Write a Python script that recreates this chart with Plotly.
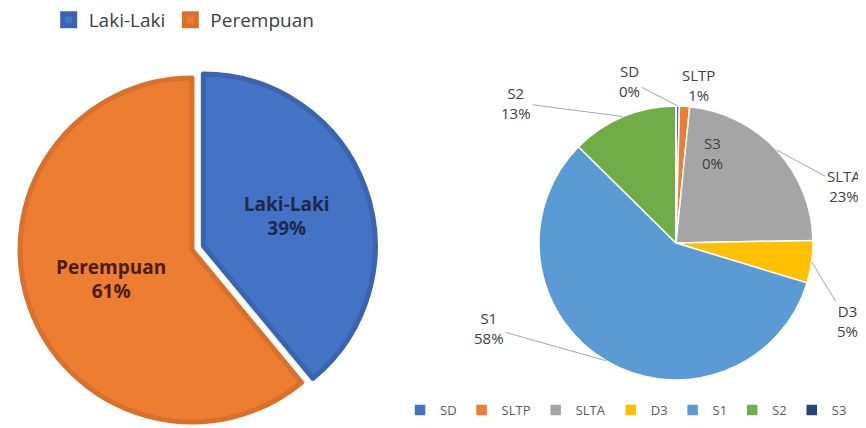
import math
import plotly.graph_objects as go

W, H = 866, 428
OFF = 8  # page body margin: screen = figure + OFF

# Left pie: gender
gender_labels = ["Laki-Laki", "Perempuan"]
gender_values = [39, 61]
gender_colors = ["#4472C4", "#ED7D31"]
gender_edges = ["#3A64B0", "#D9712C"]
gender_text_colors = ["#1C2A4F", "#4A1C0C"]

# Right pie: education
edu_labels = ["SD", "SLTP", "SLTA", "D3", "S1", "S2", "S3"]
edu_values = [0.4, 1.2, 23.1, 5.0, 57.7, 12.6, 0.0]
edu_colors = ["#4472C4", "#ED7D31", "#A5A5A5", "#FFC000", "#5B9BD5", "#70AD47", "#264478"]

# label offsets (px, text centre relative to slice edge) and leader-line flags
edu_offsets = [(-48, -25), (14, -21), (67, 36), (36, 59), (-117, -33), (-107, -14), (36, 47)]
edu_leader = [True, False, True, True, True, True, False]

FONT = "Open Sans"


def px(sx):
    return (sx - OFF) / W


def py(sy):
    return 1 - (sy - OFF) / H


fig = go.Figure()

# left pie geometry (screen px)
lcx, lcy, lpull = 192, 250, 0.07
lhalf = lcx - OFF
fig.add_trace(go.Pie(
    labels=gender_labels, values=gender_values,
    sort=False, direction="clockwise", rotation=0,
    pull=[lpull, 0],
    marker=dict(colors=gender_colors, line=dict(color=gender_edges, width=5)),
    texttemplate="<b>%{label}<br>%{percent:.0%}</b>",
    textposition="inside", insidetextorientation="horizontal",
    insidetextfont=dict(family=FONT, size=19, color=gender_text_colors),
    domain=dict(x=[0, px(lcx + lhalf)], y=[py(lcy + lhalf), py(lcy - lhalf)]),
    legend="legend", hoverinfo="label+percent",
))

# right pie geometry (screen px)
cx, cy, R = 676, 243, 137
fig.add_trace(go.Pie(
    labels=edu_labels, values=edu_values,
    sort=False, direction="clockwise", rotation=0,
    marker=dict(colors=edu_colors, line=dict(color="white", width=1.5)),
    textinfo="none",
    domain=dict(x=[px(cx - R), px(cx + R)], y=[py(cy + R), py(cy - R)]),
    legend="legend2", hoverinfo="label+percent",
))

total = sum(edu_values)
cum = 0.0
annotations = []
for lab, v, (ox, oy), lead in zip(edu_labels, edu_values, edu_offsets, edu_leader):
    mid = (cum + v / 2) / total
    cum += v
    ang = 2 * math.pi * mid
    tx = cx + R * math.sin(ang)
    ty = cy - R * math.cos(ang)
    text = f"{lab}<br>{v:.0f}%"
    if lead:
        annotations.append(dict(
            x=px(tx), y=py(ty), xref="paper", yref="paper",
            text=text, showarrow=True, arrowhead=0, arrowwidth=1,
            arrowcolor="#A6A6A6", ax=ox, ay=oy, standoff=0,
            font=dict(family=FONT, size=15, color="#404040"),
        ))
    else:
        annotations.append(dict(
            x=px(tx + ox), y=py(ty + oy), xref="paper", yref="paper",
            xanchor="center", yanchor="middle",
            text=text, showarrow=False,
            font=dict(family=FONT, size=15, color="#404040"),
        ))

fig.update_layout(
    width=W, height=H,
    margin=dict(l=0, r=0, t=0, b=0, autoexpand=False),
    paper_bgcolor="white", plot_bgcolor="white",
    font=dict(family=FONT),
    annotations=annotations,
    legend=dict(
        orientation="h", x=0.047, y=py(20), xanchor="left", yanchor="middle",
        font=dict(family=FONT, size=19, color="#404040"),
        bgcolor="rgba(0,0,0,0)",
    ),
    legend2=dict(
        orientation="h", x=0.4527, y=py(410), xanchor="left", yanchor="middle",
        font=dict(family=FONT, size=13, color="#595959"),
        bgcolor="rgba(0,0,0,0)",
    ),
)

fig.write_html("out.html")
